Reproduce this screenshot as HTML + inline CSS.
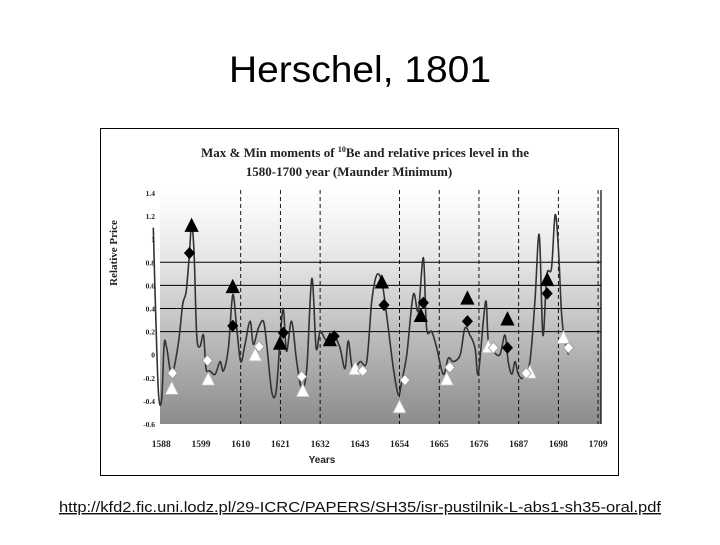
<!DOCTYPE html>
<html><head><meta charset="utf-8"><style>
body{margin:0;width:720px;height:540px;background:#fff;overflow:hidden;font-family:"Liberation Sans",sans-serif}
</style></head><body>
<svg width="720" height="540" xmlns="http://www.w3.org/2000/svg">
<defs>
<linearGradient id="bg" x1="0" y1="0" x2="0" y2="1">
<stop offset="0" stop-color="#ffffff"/><stop offset="0.3" stop-color="#e6e6e6"/><stop offset="1" stop-color="#8c8c8c"/>
</linearGradient>
</defs>
<text x="360" y="82" text-anchor="middle" font-size="37" font-family="Liberation Sans, sans-serif" textLength="262" lengthAdjust="spacingAndGlyphs">Herschel, 1801</text>
<rect x="100.5" y="128.5" width="518" height="347" fill="#fff" stroke="#000" stroke-width="1"/>
<g font-family="Liberation Serif, serif" font-weight="bold" fill="#222">
<text x="365" y="157" text-anchor="middle" font-size="13">Max &amp; Min moments of <tspan dy="-5" font-size="8">10</tspan><tspan dy="5">Be and relative prices level in the</tspan></text>
<text x="349" y="176" text-anchor="middle" font-size="13">1580-1700 year (Maunder Minimum)</text>
</g>
<rect x="160" y="190" width="441" height="234" fill="url(#bg)"/>
<g id="grid"></g>
<g id="series"></g>
<g id="marks"></g>
<g id="axes" font-family="Liberation Serif, serif" font-weight="bold" fill="#222"></g>
<text transform="translate(117,253) rotate(-90)" text-anchor="middle" font-family="Liberation Serif, serif" font-weight="bold" font-size="11" fill="#222">Relative Price</text>
<text x="322" y="463" text-anchor="middle" font-family="Liberation Sans, sans-serif" font-weight="bold" font-size="10" fill="#222">Years</text>
<a><text x="360" y="512" text-anchor="middle" font-size="14.5" fill="#111" text-decoration="underline" textLength="602" lengthAdjust="spacingAndGlyphs">http://kfd2.fic.uni.lodz.pl/29-ICRC/PAPERS/SH35/isr-pustilnik-L-abs1-sh35-oral.pdf</text></a>
</svg>
<script>
const yTicks=[1.4,1.2,1,0.8,0.6,0.4,0.2,0,-0.2,-0.4,-0.6];
const yTickLabels=["1.4","1.2","1","0.8","0.6","0.4","0.2","0","-0.2","-0.4","-0.6"];
const hLines=[0.2,0.4,0.6,0.8];
const xTicks=[1588,1599,1610,1621,1632,1643,1654,1665,1676,1687,1698,1709];
const dashedYears=[1610,1621,1632,1654,1665,1676,1687,1698,1709];
const priceYears=[1585.8,1586.3,1587.2,1588.1,1588.8,1589.5,1590.9,1592.7,1593.9,1594.9,1595.8,1596.4,1597.1,1597.8,1598.7,1599.7,1600.4,1601.5,1602.9,1604.3,1605.2,1606.6,1607.8,1608.9,1610,1611.2,1612.6,1613.5,1614.9,1616.3,1617.2,1618.6,1619.8,1620.9,1621.8,1622.7,1624.1,1625.5,1626.9,1628.3,1629.7,1630.9,1632.0,1633.8,1635.7,1637.5,1638.9,1639.8,1641.0,1643.1,1644.9,1646.3,1647.7,1649.1,1650.4,1652.3,1653.7,1654.6,1656.0,1657.8,1659.2,1660.6,1661.5,1662.9,1664.3,1666.1,1667.5,1668.9,1670.8,1672.1,1673.5,1674.9,1675.8,1677.2,1678.0,1678.6,1680.0,1681.8,1683.2,1684.1,1685.1,1686.0,1686.9,1688.3,1690.1,1691.5,1692.7,1693.7,1694.8,1696.1,1697.1,1698.0,1698.9,1699.8,1700.8];
const priceValues=[1.10,0.52,-0.32,-0.39,0.09,0.06,-0.17,0.09,0.43,0.55,0.87,1.13,0.87,0.17,0.07,0.17,-0.12,-0.14,-0.17,-0.06,-0.14,0.06,0.52,0.23,-0.06,0.09,0.29,0.09,0.23,0.29,0.09,-0.32,-0.32,0.12,0.40,0.03,0.29,-0.06,-0.29,-0.12,0.66,0.06,0.20,0.12,0.17,0.06,-0.12,0.12,-0.12,-0.06,-0.06,0.46,0.69,0.63,0.35,-0.12,-0.35,-0.23,0,0.52,0.38,0.84,0.23,0.20,0.06,-0.17,-0.03,-0.06,0,0.23,0.17,0.06,-0.17,0.29,0.46,0.12,0.03,0,0.17,-0.06,-0.17,-0.06,-0.17,-0.20,-0.06,0.46,1.04,0.17,0.69,0.75,1.21,0.92,0.35,0.12,0];
const maxTriYears=[1596.4,1607.8,1620.9,1634.7,1649.1,1659.9,1672.8,1683.9,1694.9];
const maxTriValues=[1.11,0.58,0.09,0.12,0.62,0.33,0.48,0.30,0.64];
const maxDiaYears=[1595.8,1607.8,1621.8,1635.9,1649.7,1660.6,1672.8,1683.9,1694.9];
const maxDiaValues=[0.88,0.25,0.19,0.16,0.43,0.45,0.29,0.06,0.53];
const minTriYears=[1590.9,1601.0,1614.0,1627.2,1641.7,1654.0,1667.1,1678.6,1690.1,1699.4];
const minTriValues=[-0.30,-0.22,-0.01,-0.32,-0.13,-0.46,-0.22,0.06,-0.16,0.14];
const minDiaYears=[1591.1,1600.8,1615.1,1626.9,1643.8,1655.5,1667.9,1680.0,1689.1,1700.8];
const minDiaValues=[-0.16,-0.05,0.07,-0.19,-0.14,-0.22,-0.11,0.06,-0.16,0.06];

const NS="http://www.w3.org/2000/svg";
function X(yr){return 240.7+(yr-1610)*3.61;}
function Y(v){return 354.7-v*115.5;}
function mk(tag,attrs,parent){const e=document.createElementNS(NS,tag);for(const k in attrs)e.setAttribute(k,attrs[k]);document.getElementById(parent).appendChild(e);return e;}

hLines.forEach(v=>{
  const l=mk('line',{x1:160,x2:601,y1:Y(v),y2:Y(v),stroke:'#000','stroke-width':1},'grid');
  
  
});
dashedYears.forEach(yr=>{
  const l=mk('line',{x1:X(yr),x2:X(yr),y1:190,y2:424,stroke:'#000','stroke-width':0.9,'stroke-dasharray':'4,3'},'grid');
  
  
});
const rb=mk('line',{x1:601,x2:601,y1:190,y2:424,stroke:'#000','stroke-width':1.2},'grid');



const pts=priceYears.map((yr,i)=>[X(yr),Y(priceValues[i])]);
let d='M'+pts[0][0].toFixed(1)+','+pts[0][1].toFixed(1);
for(let i=0;i<pts.length-1;i++){
  const p0=pts[Math.max(0,i-1)],p1=pts[i],p2=pts[i+1],p3=pts[Math.min(pts.length-1,i+2)];
  const k=1/6;
  const c1=[p1[0]+(p2[0]-p0[0])*k,p1[1]+(p2[1]-p0[1])*k];
  const c2=[p2[0]-(p3[0]-p1[0])*k,p2[1]-(p3[1]-p1[1])*k];
  d+=`C${c1[0].toFixed(1)},${c1[1].toFixed(1)} ${c2[0].toFixed(1)},${c2[1].toFixed(1)} ${p2[0].toFixed(1)},${p2[1].toFixed(1)}`;
}
const p=mk('path',{d:d,fill:'none',stroke:'#333','stroke-width':1.6,'stroke-linejoin':'round'},'series');



function tri(x,y,fill,name){
  const s=mk('polygon',{points:`${x},${y-8} ${x-6.5},${y+5} ${x+6.5},${y+5}`,fill:fill,stroke:fill==='#000'?'#000':'#bbb','stroke-width':0.8},'marks');
  
  
}
function dia(x,y,fill,name){
  const s=mk('polygon',{points:`${x},${y-5.5} ${x+5},${y} ${x},${y+5.5} ${x-5},${y}`,fill:fill,stroke:fill==='#000'?'#000':'#999','stroke-width':0.8},'marks');
  
  
}
minTriYears.forEach((yr,i)=>tri(X(yr),Y(minTriValues[i]),'#fff','min-triangle-marker'));
minDiaYears.forEach((yr,i)=>dia(X(yr),Y(minDiaValues[i]),'#fff','min-diamond-marker'));
maxTriYears.forEach((yr,i)=>tri(X(yr),Y(maxTriValues[i]),'#000','max-triangle-marker'));
maxDiaYears.forEach((yr,i)=>dia(X(yr),Y(maxDiaValues[i]),'#000','max-diamond-marker'));

yTicks.forEach((v,i)=>{
  const t=mk('text',{x:155,y:Y(v)+3,'text-anchor':'end','font-size':7.5},'axes');
  t.textContent=yTickLabels[i];
  
  
});
xTicks.forEach(yr=>{
  const t=mk('text',{x:X(yr),y:447,'text-anchor':'middle','font-size':9.5},'axes');
  t.textContent=String(yr);
  
  
});
</script>
</body></html>
